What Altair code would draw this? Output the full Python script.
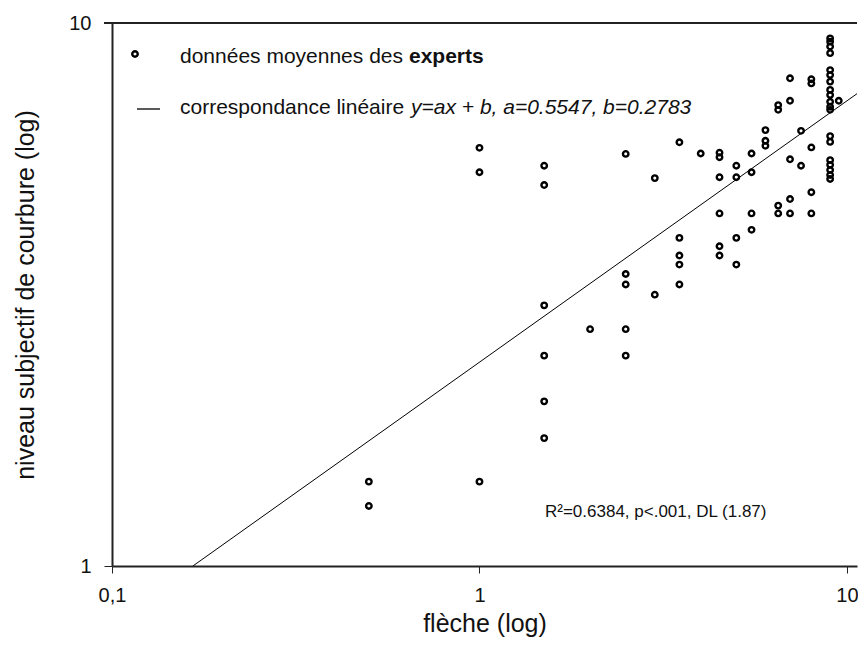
import altair as alt
import pandas as pd

# ---- data ----
fleche = [0.5, 0.5,
          1, 1, 1,
          1.5, 1.5, 1.5, 1.5, 1.5, 1.5,
          2,
          2.5, 2.5, 2.5, 2.5, 2.5,
          3, 3,
          3.5, 3.5, 3.5, 3.5, 3.5,
          4,
          4.5, 4.5, 4.5, 4.5, 4.5, 4.5,
          5, 5, 5, 5,
          5.5, 5.5, 5.5, 5.5,
          6, 6, 6,
          6.5, 6.5, 6.5, 6.5,
          7, 7, 7, 7, 7,
          7.5, 7.5,
          8, 8, 8, 8, 8,
          9, 9, 9, 9, 9, 9, 9, 9, 9, 9, 9, 9, 9, 9, 9, 9, 9, 9, 9,
          9.5]
niveau = [1.43, 1.29,
          1.43, 5.89, 5.31,
          5.46, 5.03, 3.02, 2.44, 2.01, 1.72,
          2.73,
          5.74, 3.45, 3.30, 2.73, 2.44,
          5.18, 3.16,
          6.03, 4.02, 3.73, 3.59, 3.30,
          5.75,
          5.77, 5.66, 5.20, 4.46, 3.88, 3.73,
          5.46, 5.20, 4.02, 3.59,
          5.75, 5.31, 4.46, 4.16,
          6.35, 6.07, 5.94,
          7.06, 6.92, 4.61, 4.46,
          7.91, 7.19, 5.61, 4.74, 4.46,
          6.33, 5.46,
          7.88, 7.74, 5.90, 4.88, 4.46,
          9.37, 9.24, 9.05, 8.80, 8.19, 8.02, 7.80, 7.53, 7.37, 7.16, 7.01,
          6.92, 6.19, 6.04, 5.59, 5.48, 5.36, 5.25, 5.16,
          7.19]

fit_x = [0.166, 10.65]
fit_y = [1.0, 7.41]

x_ticks = [0.1, 1, 10]
y_ticks = [1, 10]

legend_1 = "données moyennes des"
legend_1b = "experts"
legend_2 = "correspondance linéaire"
legend_2b = "y=ax + b, a=0.5547, b=0.2783"
stats_text = "R²=0.6384, p<.001, DL (1.87)"

FONT = "Liberation Sans"
W, H = 745, 543

pts = pd.DataFrame({"x": fleche, "y": niveau})
fit = pd.DataFrame({"x": fit_x, "y": fit_y})
one = pd.DataFrame({"a": [0]})

xscale = alt.Scale(type="log", domain=[0.1, 10.65], nice=False)
yscale = alt.Scale(type="log", domain=[1, 10], nice=False)

xaxis = alt.Axis(values=x_ticks, labelExpr="datum.value == 0.1 ? '0,1' : format(datum.value, 'd')",
                 title="flèche (log)", grid=False, tickSize=7, labelPadding=12,
                 titlePadding=6, labelFontSize=20, titleFontSize=25,
                 labelFont=FONT, titleFont=FONT, titleFontWeight="normal",
                 domainColor="#222", tickColor="#222", labelColor="#111", titleColor="#111",
                 labelFlush=False, labelOverlap=False)
yaxis = alt.Axis(values=y_ticks, format="d", title="niveau subjectif de courbure (log)",
                 grid=False, tickSize=8, labelPadding=13, titlePadding=30,
                 labelFontSize=20, titleFontSize=25, labelFont=FONT, titleFont=FONT,
                 titleFontWeight="normal", domainColor="#222", tickColor="#222",
                 labelColor="#111", titleColor="#111", labelFlush=False, labelOverlap=False)

points = alt.Chart(pts).mark_point(shape="circle", filled=False, stroke="black",
                                   strokeWidth=2.4, size=30, opacity=1, clip=True).encode(
    x=alt.X("x:Q", scale=xscale, axis=xaxis),
    y=alt.Y("y:Q", scale=yscale, axis=yaxis),
)

line = alt.Chart(fit).mark_line(color="black", strokeWidth=1, clip=True).encode(
    x=alt.X("x:Q", scale=xscale),
    y=alt.Y("y:Q", scale=yscale),
)

top_rule = alt.Chart(one).mark_rule(color="#222", strokeWidth=2).encode(
    x=alt.value(-8), x2=alt.value(W), y=alt.value(0))

leg_pt = alt.Chart(one).mark_point(shape="circle", filled=False, stroke="black",
                                   strokeWidth=2.4, size=30, opacity=1).encode(
    x=alt.value(23), y=alt.value(31))
leg_line = alt.Chart(one).mark_rule(color="black", strokeWidth=1.3).encode(
    x=alt.value(25), x2=alt.value(48), y=alt.value(86))

def txt(s, x, y, size, weight="normal", style="normal"):
    return alt.Chart(one).mark_text(text=s, align="left", baseline="middle", font=FONT,
                                    fontSize=size, fontWeight=weight, fontStyle=style,
                                    color="#111").encode(x=alt.value(x), y=alt.value(y))

t1 = txt(legend_1, 68, 34, 21)
t1b = txt(legend_1b, 297, 34, 21, weight="bold")
t2 = txt(legend_2, 68, 85, 21)
t2b = txt(legend_2b, 299, 85, 21, style="italic")
t3 = txt(stats_text, 433, 489, 17)

chart = alt.layer(points, line, top_rule, leg_pt, leg_line, t1, t1b, t2, t2b, t3).properties(
    width=W, height=H,
    autosize=alt.AutoSizeParams(type="none"),
    padding={"left": 104, "top": 15, "right": 1, "bottom": 73},
).configure_view(stroke=None).configure_axis(domainWidth=2)

chart.save("out.html", embed_options={"renderer": "svg", "actions": False})
